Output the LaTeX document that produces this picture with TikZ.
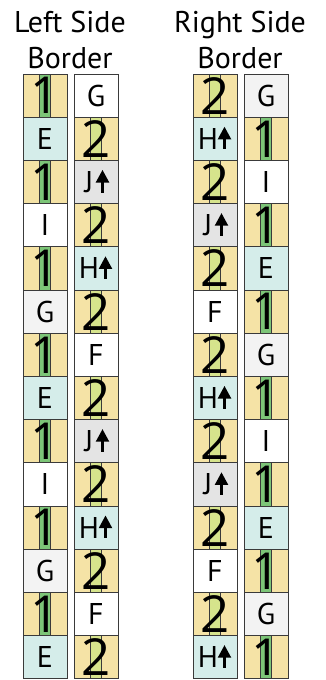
\documentclass[tikz,border=0pt]{standalone}
\usepackage{fontspec}
\setmainfont{PT Sans}
\newfontfamily\digitfont{Open Sans}
\definecolor{yel}{HTML}{F5E3A6}
\definecolor{grn}{HTML}{7CC577}
\definecolor{lgrn}{HTML}{D6E48C}
\definecolor{cyn}{HTML}{D5EDEA}
\definecolor{jgray}{HTML}{E4E4E4}
\definecolor{ggray}{HTML}{F3F3F3}
\definecolor{edge}{HTML}{3A3A3A}
\def\txtone{1}\def\txttwo{2}
\def\txtE{E}\def\txtI{I}\def\txtG{G}\def\txtGw{G}\def\txtF{F}
\def\txtH{H\kern14pt}\def\txtJ{J\kern14pt}
\newcommand\uparrowat[2]{\begin{scope}[shift={(#1.center)},xshift=#2]
  \fill[black] (-1.4,-10.5) rectangle (1.4,2);
  \fill[black] (-6.8,-0.5) -- (6.8,-0.5) -- (0,12) -- cycle;
\end{scope}}
\begin{document}
\begin{tikzpicture}[x=1pt,y=1pt,
  cell/.style={draw=edge,line width=0.9pt,minimum width=44pt,minimum height=43.2pt,inner sep=0pt},
  letter/.style={cell,font=\fontsize{30}{30}\selectfont},
  stripe/.style={cell,fill=yel,font=\digitfont\fontsize{51}{51}\selectfont,
    path picture={\fill[#1] ([xshift=-5.5pt]path picture bounding box.south) rectangle ([xshift=5.5pt]path picture bounding box.north);
      \draw[edge,line width=0.7pt] ([xshift=-5.5pt]path picture bounding box.south) -- ([xshift=-5.5pt]path picture bounding box.north)
        ([xshift=5.5pt]path picture bounding box.south) -- ([xshift=5.5pt]path picture bounding box.north);}},
  cone/.style={stripe=grn},
  ctwo/.style={stripe=lgrn},
  cE/.style={letter,fill=cyn},
  cH/.style={letter,fill=cyn},
  cI/.style={letter,fill=white},
  cF/.style={letter,fill=white},
  cG/.style={letter,fill=ggray},
  cGw/.style={letter,fill=white},
  cJ/.style={letter,fill=jgray},
  title/.style={font=\fontsize{30}{30}\selectfont,anchor=base,inner sep=0pt}
]
\useasboundingbox (0,0) rectangle (326,-680);
\node[title] (tl1) at (70,-32) {Left Side};
\node[title] (tl2) at (70,-68) {Border};
\node[title] (tr1) at (240,-32) {Right Side};
\node[title] (tr2) at (240,-68) {Border};
\foreach \t [count=\i from 0] in {one,E,one,I,one,G,one,E,one,I,one,G,one,E}
  \node[c\t] (a\i) at (45,{-(95.6+43.2*\i)}) {\csname txt\t\endcsname};
\foreach \t [count=\i from 0] in {Gw,two,J,two,H,two,F,two,J,two,H,two,F,two}
  \node[c\t] (b\i) at (96,{-(95.6+43.2*\i)}) {\csname txt\t\endcsname};
\foreach \t [count=\i from 0] in {two,H,two,J,two,F,two,H,two,J,two,F,two,H}
  \node[c\t] (c\i) at (215,{-(95.6+43.2*\i)}) {\csname txt\t\endcsname};
\foreach \t [count=\i from 0] in {G,one,I,one,E,one,G,one,I,one,E,one,G,one}
  \node[c\t] (d\i) at (266,{-(95.6+43.2*\i)}) {\csname txt\t\endcsname};
% arrows in H and J cells
\foreach \n in {b4,b10,c1,c7,c13} {\uparrowat{\n}{9.5pt}}
\foreach \n in {b2,b8,c3,c9} {\uparrowat{\n}{6.5pt}}
\end{tikzpicture}
\end{document}
